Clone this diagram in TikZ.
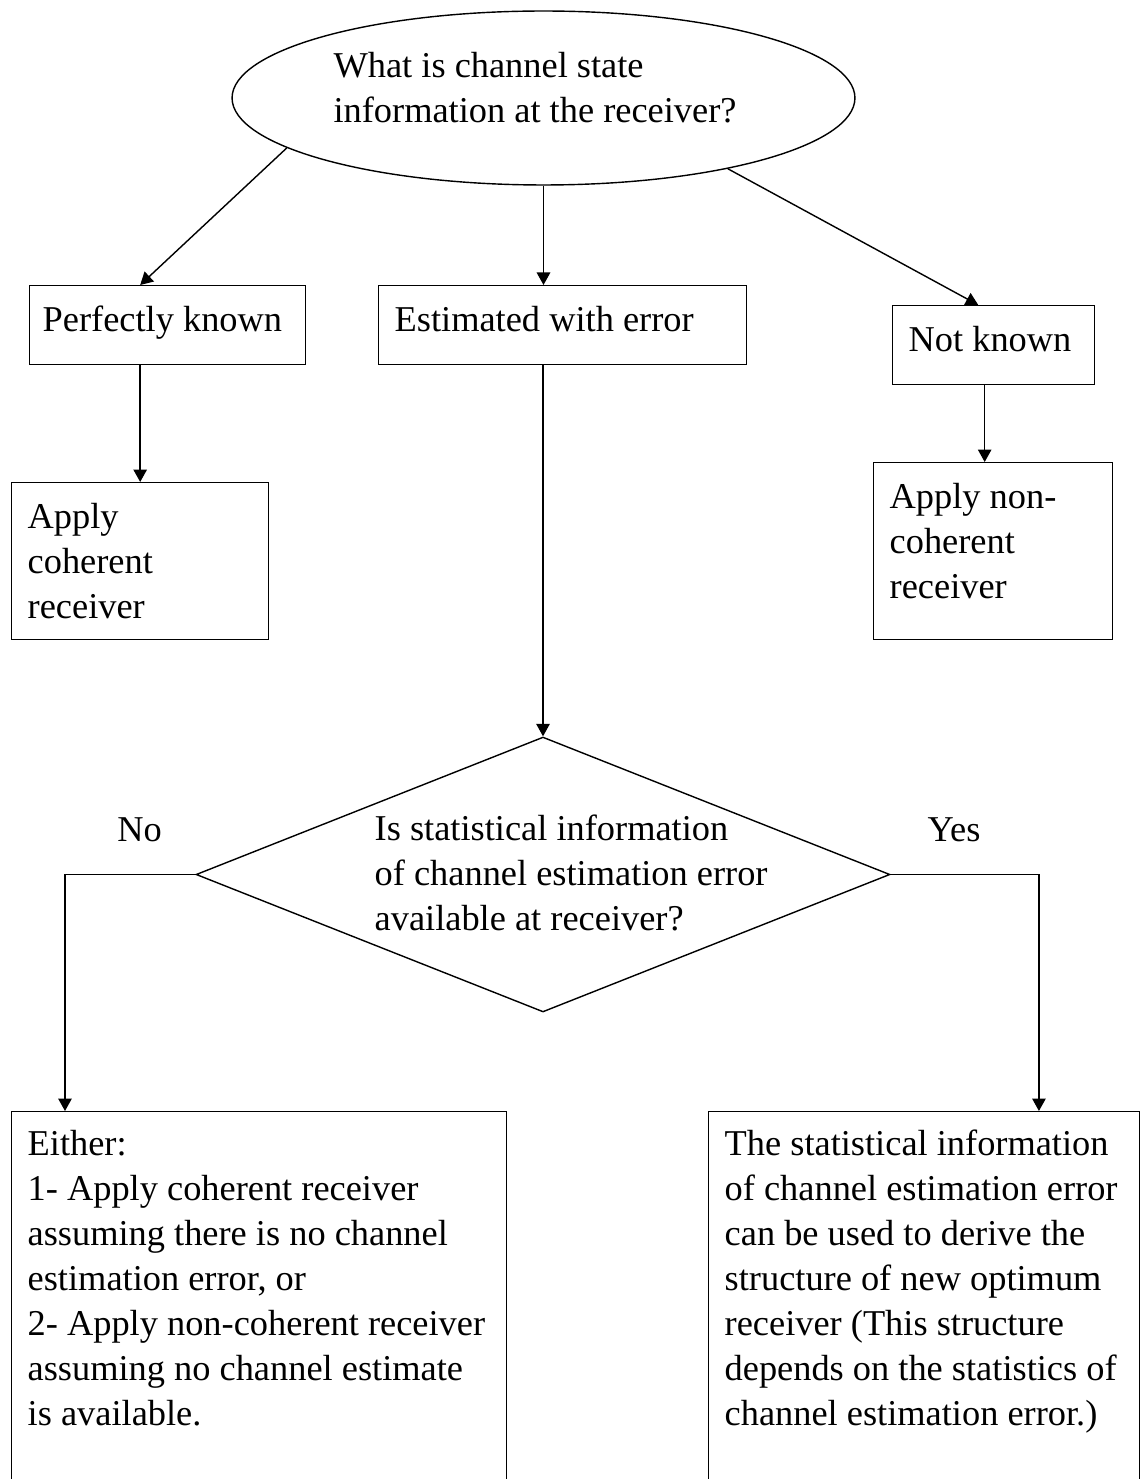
\documentclass[tikz,border=0pt]{standalone}
\usepackage{fontspec}
\setmainfont{Liberation Serif}
\usepackage{tikz}
\usetikzlibrary{shapes.geometric}
\usetikzlibrary{arrows.meta}

\begin{document}
\begin{tikzpicture}
    [x=0.02cm, y=-0.02cm,
     font=\fontsize{20.7}{25.6}\selectfont,
     line width=0.8pt,
     box/.style={draw, rectangle, align=flush left, anchor=north west, inner xsep=0.32cm, inner ysep=0pt},
     arr/.style={-{Triangle[length=0.25cm, width=0.27cm]}}]
    \useasboundingbox (0, 0) rectangle (1146, 1479);
    \clip (0, 0) rectangle (1146, 1479);

    \node (csi) [draw, ellipse, minimum width=12.46cm, minimum height=3.48cm, inner sep=0pt,
      align=flush left, text width=8.4cm, text height=0.5cm, text depth=1.3cm] at (543.5, 98) {
      What is channel state\\
      information at the receiver?
    };

    \node (perfect) [box, inner xsep=0.26cm, text width=5.0cm, text height=0.92cm, text depth=0.66cm] at (29, 285) {Perfectly known};
    \node (estim) [box, text width=6.72cm, text height=0.92cm, text depth=0.66cm] at (378, 285) {Estimated with error};
    \node (unknown) [box, text width=3.4cm, text height=0.92cm, text depth=0.66cm] at (892, 305) {Not known};

    \node (coh) [box, text width=4.5cm, text height=0.92cm, text depth=2.22cm] at (11, 482) {
      Apply\\
      coherent\\
      receiver
    };
    \node (noncoh) [box, text width=4.14cm, text height=0.92cm, text depth=2.62cm] at (873, 462) {
      Apply non-\\
      coherent\\
      receiver
    };

    \node (dec) [draw, diamond, minimum width=13.88cm, minimum height=5.5cm, inner sep=0pt] at (543, 874.5) {};
    \node (ask) [anchor=north west, align=flush left, inner sep=0pt, text width=8.2cm, text height=0.5cm] at (374, 815) {
      Is statistical information\\
      of channel estimation error\\
      available at receiver?
    };
    \node (no) [anchor=base] at (139.5, 841) {No};
    \node (yes) [anchor=base] at (954, 841) {Yes};

    \node (either) [box, text width=9.26cm, text height=0.88cm, text depth=7.5cm] at (11, 1111) {
      Either:\\
      1- Apply coherent receiver\\
      assuming there is no channel\\
      estimation error, or\\
      2- Apply non-coherent receiver\\
      assuming no channel estimate\\
      is available.
    };
    \node (stat) [box, text width=7.98cm, text height=0.88cm, text depth=7.5cm] at (708, 1111) {
      The statistical information\\
      of channel estimation error\\
      can be used to derive the\\
      structure of new optimum\\
      receiver (This structure\\
      depends on the statistics of\\
      channel estimation error.)
    };

    \coordinate (nkout) at ([xshift=-0.18cm]unknown.south);

    \draw [arr] (csi.191) -- (perfect.north -| coh.north);
    \draw [arr] (csi.south) -- (estim.north -| csi.south);
    \draw [arr] (csi.339) -- (unknown.111);
    \draw [arr] (perfect.south -| coh.north) -- (coh.north);
    \draw [arr] (nkout) -- (nkout |- noncoh.north);
    \draw [arr] (estim.south -| dec.north) -- (dec.north);
    \draw [arr] (dec.west) -| ([xshift=1.08cm]either.north west);
    \draw [arr] (dec.east) -| ([xshift=6.62cm]stat.north west);
  \end{tikzpicture}
\end{document}
